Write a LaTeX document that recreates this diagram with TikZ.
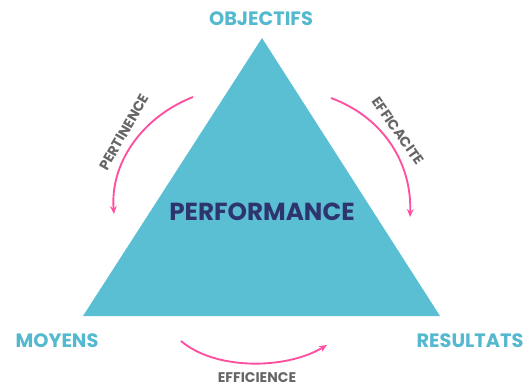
\documentclass[tikz,border=0pt]{standalone}
\usepackage{fontspec}
\setmainfont{Poppins}
\usetikzlibrary{arrows.meta}

\definecolor{triblue}{RGB}{91,191,212}
\definecolor{titleblue}{RGB}{84,184,206}
\definecolor{navy}{RGB}{45,52,110}
\definecolor{pink}{RGB}{255,79,160}
\definecolor{labelgrey}{RGB}{102,102,102}

\tikzset{every picture/.style={line width=0.75pt}}
\tikzset{
  corner/.style={text=titleblue,font=\fontsize{14.5}{16}\selectfont\bfseries,inner sep=0.75pt},
  arc label/.style={text=labelgrey,font=\fontsize{10.5}{12}\selectfont\bfseries,inner sep=0.75pt},
  pink arrow/.style={draw=pink,line width=1.4pt,-{Stealth[length=6pt,width=5pt]}}
}

\begin{document}
\begin{tikzpicture}[x=0.75pt,y=0.75pt,yscale=-1,xscale=1]
\useasboundingbox (0,0) rectangle (528,386);

%Shape: Triangle
\fill [triblue] (262,38) -- (440,316) -- (83,316) -- cycle ;

% Text Node
\node (perf) [text=navy,font=\fontsize{18.5}{21}\selectfont\bfseries,inner sep=0.75pt] at (262,212) {PERFORMANCE};
% Text Node
\node (obj) [corner] at (261,19) {OBJECTIFS};
% Text Node
\node (moy) [corner] at (57,341) {MOYENS};
% Text Node
\node (res) [corner] at (470,341) {RESULTATS};

%Curve Lines
\coordinate (pertA) at (193,97);
\coordinate (pertB) at (114,214);
\draw [pink arrow] (pertA) .. controls (140,118) and (110,165) .. (pertB) ;
%Curve Lines
\coordinate (effA) at (331,98);
\coordinate (effB) at (410,217);
\draw [pink arrow] (effA) .. controls (385,118) and (412,165) .. (effB) ;
%Curve Lines
\coordinate (efiA) at (181,341);
\coordinate (efiB) at (327,345);
\draw [pink arrow] (efiA) .. controls (215,370) and (285,370) .. (efiB) ;

% Text Node
\node (pert) [arc label,rotate=60] at (124,132) {PERTINENCE};
% Text Node
\node (effc) [arc label,rotate=-55] at (398,131) {EFFICACITE};
% Text Node
\node (efic) [arc label] at (257,378) {EFFICIENCE};

\end{tikzpicture}
\end{document}
